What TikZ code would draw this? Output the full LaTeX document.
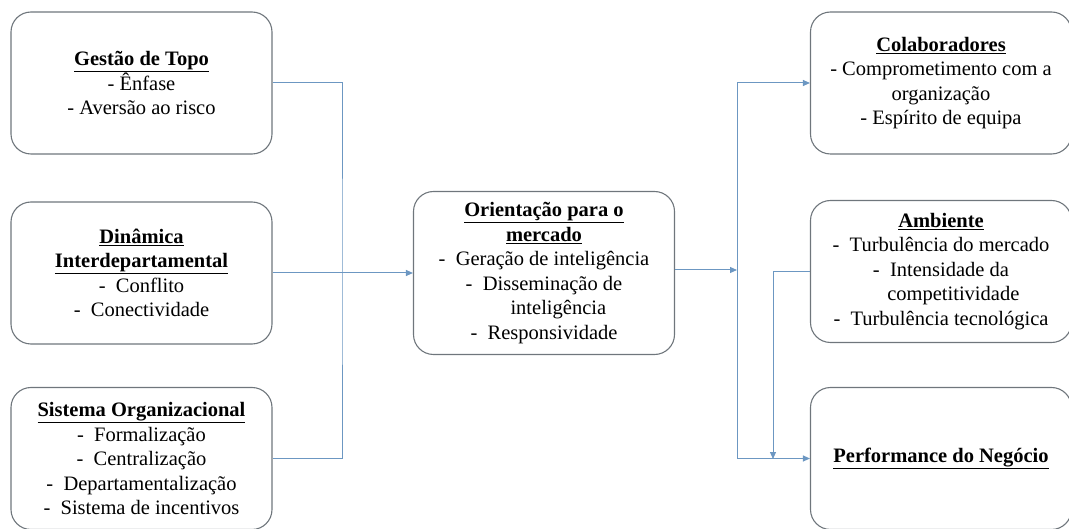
\documentclass[tikz,border=0pt]{standalone}
\usepackage{fontspec}
\setmainfont{Liberation Serif}
\usepackage{xcolor}
\usetikzlibrary{arrows.meta}

\definecolor{BoxGray}{HTML}{6F767C}
\definecolor{LinkBlue}{HTML}{6C97C2}

\begin{document}
\begin{tikzpicture}[
          % Environment Config
          x=1pt, y=-1pt,
          font=\fontsize{20.5}{24.5}\selectfont,
          BoxStyle/.style={% Style for the rounded boxes
            draw=BoxGray,
            line width=1.1pt,
            rounded corners=20pt,
            minimum width=261pt,
            minimum height=142pt,
            align=center,
            inner sep=0pt
          },
          Link/.style={% Style for the connectors
            LinkBlue,
            line width=1pt
          },
          LinkArrow/.style={% Style for the connectors with a head
            Link,
            -{Triangle[length=7pt,width=6pt]}
          }
        ]

        \useasboundingbox (0,0) rectangle (1069,529);

        % Put the boxes on the left
        \node[BoxStyle] (Topo) at (141.5,83)
            {\underline{\textbf{Gestão de Topo}}\\
             - Ênfase\\
             - Aversão ao risco};
        \node[BoxStyle] (Dinamica) at (141.5,273)
            {\underline{\textbf{Dinâmica}}\\
             \underline{\textbf{Interdepartamental}}\\
             -\enspace Conflito\\
             -\enspace Conectividade};
        \node[BoxStyle] (Sistema) at (141.5,458.5)
            {\underline{\textbf{Sistema Organizacional}}\\
             -\enspace Formalização\\
             -\enspace Centralização\\
             -\enspace Departamentalização\\
             -\enspace Sistema de incentivos};

        % Put the middle box
        \node[BoxStyle, minimum height=163pt] (Orientacao) at (544,273)
            {\underline{\textbf{Orientação para o}}\\
             \underline{\textbf{mercado}}\\
             -\enspace Geração de inteligência\\
             -\enspace Disseminação de\\
             \hspace*{1.4em}inteligência\\
             -\enspace Responsividade};

        % Put the boxes on the right
        \node[BoxStyle] (Colab) at (941,83)
            {\underline{\textbf{Colaboradores}}\\
             - Comprometimento com a\\
             organização\\
             - Espírito de equipa};
        \node[BoxStyle] (Ambiente) at (941,271.5)
            {\underline{\textbf{Ambiente}}\\
             -\enspace Turbulência do mercado\\
             -\enspace Intensidade da\\
             \hspace*{1.2em}competitividade\\
             -\enspace Turbulência tecnológica};
        \node[BoxStyle] (Performance) at (941,458.5)
            {\underline{\textbf{Performance do Negócio}}};

        % Junction points of the wires
        \coordinate (J1) at (342,273);
        \coordinate (J2) at (737,270);
        \coordinate (J3) at (773,459);

        % Draw the Wires
        %===Left side===
        \draw[Link]
        (Topo.east)
            -| (J1)
            |- (Sistema.east);
        \draw[LinkArrow]
        (Dinamica.east)
            -- (Orientacao.west);

        %===Right side===
        \draw[LinkArrow]
        (Orientacao.east |- J2)
            -- (J2);
        \draw[LinkArrow]
        (J2)
            |- (Colab.west);
        \draw[LinkArrow]
        (J2)
            |- (Performance.west);
        \draw[LinkArrow]
        (Ambiente.west)
            -| (J3);

        \end{tikzpicture}
\end{document}
